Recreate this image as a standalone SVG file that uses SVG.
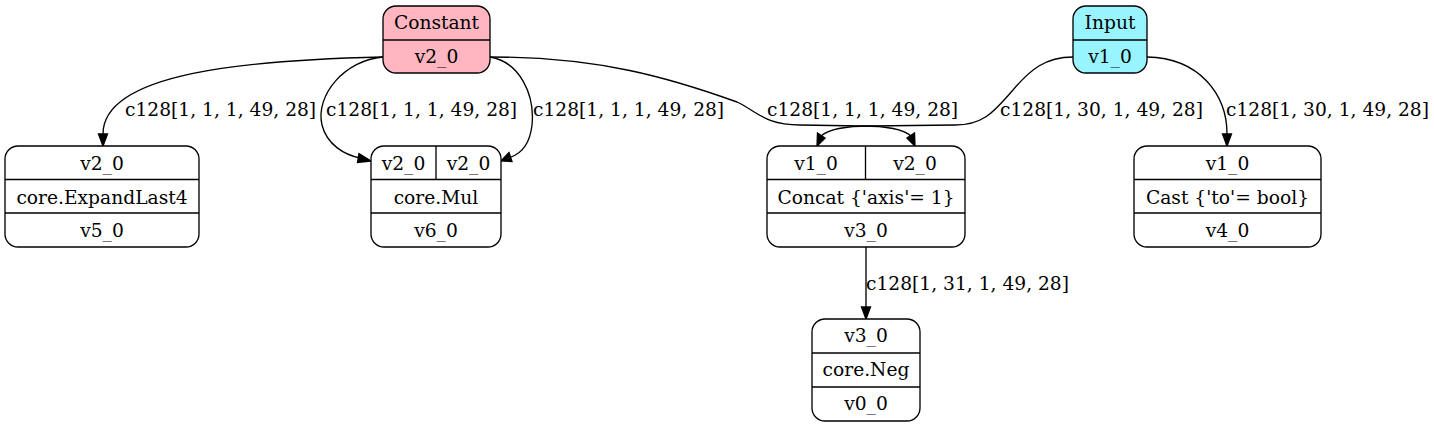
<svg xmlns="http://www.w3.org/2000/svg" width="1434" height="427" viewBox="0 0 1434 427">
<style>
text{font-family:"DejaVu Serif","Liberation Serif",serif;font-size:18.67px;fill:#000}
.c{text-anchor:middle}
.box{fill:#fff;stroke:#000;stroke-width:1.33}
.ln{stroke:#000;stroke-width:1.33;fill:none}
.e{stroke:#000;stroke-width:1.33;fill:none}
.ah{fill:#000;stroke:#000;stroke-width:1.33}
</style>
<rect width="1434" height="427" fill="#fff"/>
<g id="edges">
<path class="e" d="M383,57 C250,60 103,72 103,134"/>
<polygon class="ah" points="98.5,134 107.5,134 103,146"/>
<path class="e" d="M383,57 C345,60 315,95 322,125 C327,145 345,155 360,158"/>
<polygon class="ah" points="359,153.5 357.5,162.5 371,161"/>
<path class="e" d="M490,57 C520,62 535,95 532,125 C530,143 522,153 511,157"/>
<polygon class="ah" points="509,152.5 512,161.5 501,161"/>
<path class="e" d="M490,57 C600,57 670,78 737,102 C758,112 765,125 800,125 L862,126 C888,126 903,129 911,136"/>
<polygon class="ah" points="907,138 914.5,133 915,146"/>
<path class="e" d="M1073,57 C1045,57 1030,70 1013,90 C995,110 985,125 955,125 L870,126 C845,126 829,129 821,136"/>
<polygon class="ah" points="817.5,133 825,138 817,146"/>
<path class="e" d="M1147,57 C1200,58 1227,95 1227,134"/>
<polygon class="ah" points="1222.5,134 1231.5,134 1227,146"/>
<path class="e" d="M866,247 L866,307"/>
<polygon class="ah" points="861.5,307 870.5,307 866,319"/>
<text x="125" y="116">c128[1, 1, 1, 49, 28]</text>
<text x="326" y="116">c128[1, 1, 1, 49, 28]</text>
<text x="533" y="116">c128[1, 1, 1, 49, 28]</text>
<text x="767" y="116">c128[1, 1, 1, 49, 28]</text>
<text x="1000" y="116">c128[1, 30, 1, 49, 28]</text>
<text x="1226" y="116">c128[1, 30, 1, 49, 28]</text>
<text x="866" y="290">c128[1, 31, 1, 49, 28]</text>
</g>
<g id="constant">
<rect x="383" y="6" width="107" height="67" rx="13" fill="#ffb6c1" stroke="#000" stroke-width="1.33"/>
<line class="ln" x1="383" y1="40" x2="490" y2="40"/>
<text class="c" x="436.5" y="29">Constant</text>
<text class="c" x="436.5" y="63">v2_0</text>
</g>
<g id="input">
<rect x="1073" y="6" width="74" height="67" rx="13" fill="#98f5ff" stroke="#000" stroke-width="1.33"/>
<line class="ln" x1="1073" y1="40" x2="1147" y2="40"/>
<text class="c" x="1110" y="29">Input</text>
<text class="c" x="1110" y="63">v1_0</text>
</g>
<g id="expandlast4">
<rect class="box" x="5" y="146" width="194" height="101" rx="13"/>
<line class="ln" x1="5" y1="179.5" x2="199" y2="179.5"/>
<line class="ln" x1="5" y1="213" x2="199" y2="213"/>
<text class="c" x="102" y="170">v2_0</text>
<text class="c" x="102" y="203.5">core.ExpandLast4</text>
<text class="c" x="102" y="237">v5_0</text>
</g>
<g id="mul">
<rect class="box" x="371" y="146" width="130" height="101" rx="13"/>
<line class="ln" x1="371" y1="179.5" x2="501" y2="179.5"/>
<line class="ln" x1="371" y1="213" x2="501" y2="213"/>
<line class="ln" x1="436" y1="146" x2="436" y2="179.5"/>
<text class="c" x="403.5" y="170">v2_0</text>
<text class="c" x="468.5" y="170">v2_0</text>
<text class="c" x="436" y="203.5">core.Mul</text>
<text class="c" x="436" y="237">v6_0</text>
</g>
<g id="concat">
<rect class="box" x="767" y="146" width="198" height="101" rx="13"/>
<line class="ln" x1="767" y1="179.5" x2="965" y2="179.5"/>
<line class="ln" x1="767" y1="213" x2="965" y2="213"/>
<line class="ln" x1="865.5" y1="146" x2="865.5" y2="179.5"/>
<text class="c" x="816" y="170">v1_0</text>
<text class="c" x="915" y="170">v2_0</text>
<text class="c" x="866" y="203.5">Concat {'axis'= 1}</text>
<text class="c" x="866" y="237">v3_0</text>
</g>
<g id="cast">
<rect class="box" x="1134" y="146" width="187" height="101" rx="13"/>
<line class="ln" x1="1134" y1="179.5" x2="1321" y2="179.5"/>
<line class="ln" x1="1134" y1="213" x2="1321" y2="213"/>
<text class="c" x="1227.5" y="170">v1_0</text>
<text class="c" x="1227.5" y="203.5">Cast {'to'= bool}</text>
<text class="c" x="1227.5" y="237">v4_0</text>
</g>
<g id="neg">
<rect class="box" x="812" y="319" width="108" height="102" rx="13"/>
<line class="ln" x1="812" y1="353" x2="920" y2="353"/>
<line class="ln" x1="812" y1="387" x2="920" y2="387"/>
<text class="c" x="866" y="342">v3_0</text>
<text class="c" x="866" y="376">core.Neg</text>
<text class="c" x="866" y="410">v0_0</text>
</g>
</svg>
